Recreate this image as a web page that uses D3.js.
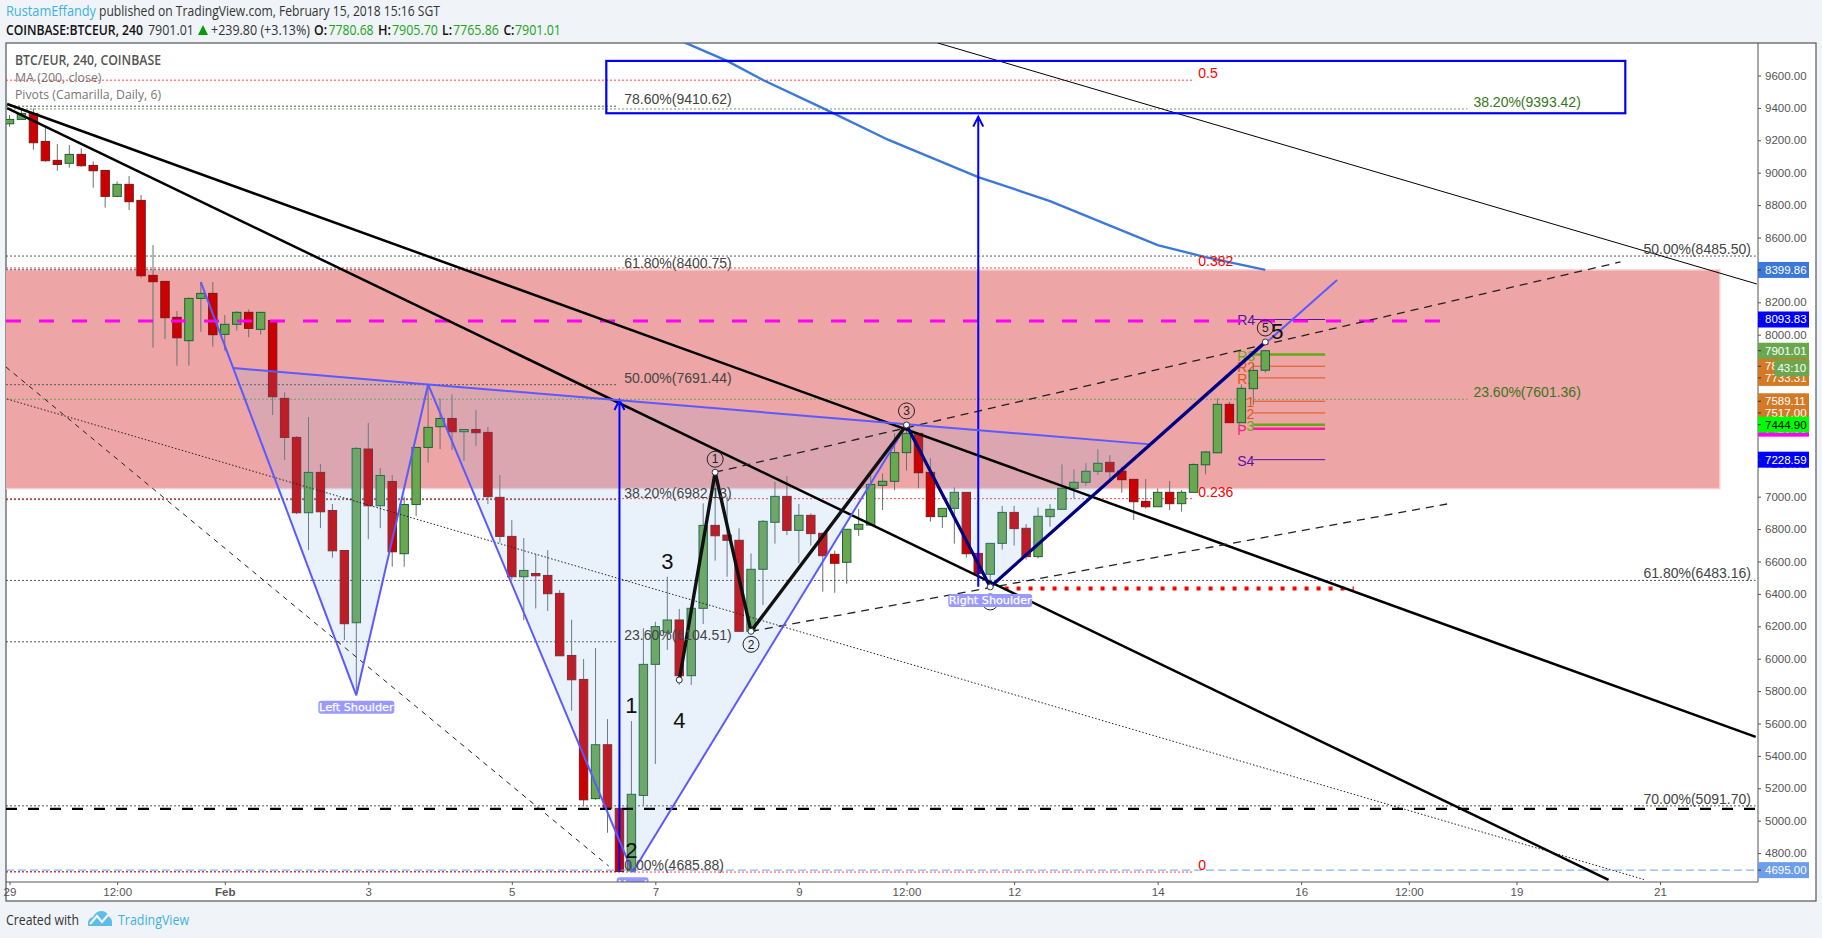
<!DOCTYPE html>
<html>
<head>
<meta charset="utf-8">
<title>BTC/EUR 240</title>
<script src="https://cdnjs.cloudflare.com/ajax/libs/d3/7.8.5/d3.min.js"></script>
<style>
  html, body { margin: 0; padding: 0; background: #f0f3f7; }
  svg { display: block; }
  text { font-family: "Liberation Sans", Arial, sans-serif; }
  text.ui { font-family: "Open Sans", "Liberation Sans", sans-serif; }
</style>
</head>
<body>
<svg id="chart" width="1822" height="938"></svg>
<script>
// Four-hour BTC/EUR candles
const opens = [9302,9329,9366,9193,9076,9058,9113,9045,9014,8854,8928,8829,8366,8329,8107,7963,8224,8255,8002,8064,8138,8033,8088,7607,7366,6901,7150,6915,6668,6222,7294,6944,7094,6648,6952,7304,7432,7483,7401,7415,7397,6996,6755,6506,6526,6514,6403,6020,5872,5136,5469,5076,4690,5156,5965,6163,6239,5895,6311,6823,6763,6731,6169,6552,6842,7002,6792,6885,6774,6644,6595,6799,6825,7070,7095,7272,7391,7150,6877,6928,7027,6650,6521,6712,6903,6805,6630,6877,6922,7052,7089,7157,7212,7158,7107,6971,6938,7027,6957,7027,7197,7271,7570,7457,7667,7780.68];
const highs = [9356,9387,9397,9284,9177,9171,9150,9070,9014,8946,8979,8862,8553,8329,8146,8230,8325,8325,8121,8146,8156,8138,8088,7644,7374,7492,7201,6955,6668,7306,7455,7177,7134,7000,7304,7693,7607,7632,7415,7535,7430,7134,6856,6745,6646,6670,6424,6241,5998,6066,5627,5076,5615,6188,6228,6506,6307,6311,6959,7150,7000,6805,6650,6856,7093,7128,6955,6897,6774,6667,6799,6924,7144,7144,7391,7443,7391,7237,6928,7058,7027,6650,6712,6943,6943,6831,6934,6955,7200,7169,7206,7292,7257,7185,7107,7109,7051,7097,7041,7206,7282,7607,7586,7693,7819,7905.70];
const lows = [9284,9329,9142,9068,9012,9031,9037,8907,8784,8852,8769,8352,7920,7973,7809,7809,8018,7926,7901,8025,7984,8000,7504,7226,6893,6670,6806,6623,6115,5774,6738,6806,6568,6568,6880,7210,7294,7288,7222,7313,6955,6716,6489,6238,6310,6294,6018,5679,5092,5129,4926,4686,4686,5097,5350,6054,5838,5838,6214,6605,6506,6169,6156,6331,6710,6763,6589,6698,6414,6407,6463,6757,6825,6918,7041,7161,7052,6846,6807,6710,6624,6520,6445,6673,6698,6613,6619,6815,6922,6990,7068,7134,7103,7024,6856,6926,6938,6917,6907,7027,7138,7271,7457,7457,7566,7765.86];
const closes = [9329,9366,9185,9074,9051,9113,9043,9012,8854,8928,8821,8364,8327,8105,7981,8224,8255,8000,8064,8138,8039,8138,7617,7366,6901,7150,6907,6666,6216,7298,6944,7131,6660,6952,7304,7428,7483,7401,7415,7395,7000,6755,6506,6545,6512,6401,6018,5870,5129,5469,5074,4686,5163,5965,6198,6239,5895,6311,6823,6759,6731,6169,6552,6848,7002,6792,6885,6772,6636,6589,6799,6829,7076,7095,7272,7391,7148,6877,6928,7027,6648,6527,6712,6903,6803,6630,6879,6922,7052,7089,7157,7206,7154,7105,6969,6938,7027,6957,7027,7199,7276,7570,7457,7669,7780,7901.01];

// Moving average, candle index and price
const maIndex = [55,60,63,68,73.5,81,87,96,100,105];
const maValue = [9850,9690,9572,9399,9202,8973,8825,8553,8479,8399.86];

// Price and time axis ticks
const priceTicks = [4800,5000,5200,5400,5600,5800,6000,6200,6400,6600,6800,7000,7200,7400,7600,7800,8000,8200,8400,8600,8800,9000,9200,9400,9600];
const timeTicks = [0,9,18,30,42,54,66,75,84,96,108,117,126,138];
const timeLabels = ["29","12:00","Feb","3","5","7","9","12:00","12","14","16","12:00","19","21"];

// Retracement levels: price and label
const leftFibPrices = [9410.62,8400.75,7691.44,6982.13,6104.51,4685.88];
const leftFibLabels = ["78.60%(9410.62)","61.80%(8400.75)","50.00%(7691.44)","38.20%(6982.13)","23.60%(6104.51)","0.00%(4685.88)"];
const rightFibPrices = [8485.50,6483.16,5091.70];
const rightFibLabels = ["50.00%(8485.50)","61.80%(6483.16)","70.00%(5091.70)"];
const greenFibPrices = [9393.42,7601.36];
const greenFibLabels = ["38.20%(9393.42)","23.60%(7601.36)"];
const redFibPrices = [9571,8412,6988,4683];
const redFibLabels = ["0.5","0.382","0.236","0"];

// Camarilla pivots
const pivotNames = ["R4","R3","R2","R1","S1","S2","S3","P","S4"];
const pivotPrices = [8093.83,7877.52,7805.41,7733.31,7589.11,7517.00,7444.90,7420,7228.59];
const pivotColors = ["#5a10a8","#62ab12","#e0561a","#e0561a","#e0561a","#e0561a","#62ab12","#ff1aa0","#5a10a8"];
const pivotWidths = [1,2.5,1,1,1,1,2.5,2.5,1];

// Resistance zone and target box, in price
const zoneTop = 8399.86, zoneBottom = 7050;
const boxTop = 9690, boxBottom = 9367;
const magentaLevel = 8084, blackDashLevel = 5073, lowLevel = 4695.00, redDotLevel = 6434;

// Head and shoulders vertices
const hsIndex = [16,18.7,29,35,52.1,75,82,95.4,111];
const hsPrice = [8325,7794,5774,7693,4682,7443,6443,7323,8338];

// Impulse wave vertices
const waveIndex = [56,59,62,75,82,105];
const wavePrice = [5869,7151,6169,7443,6443,7955];

// Trend lines: two end points each
const thickLines = [[[-0.2,9424],[146,5517]],[[-0.2,9399],[133.7,4634]]];
const thinLine = [[77.6,9801],[146.1,8313]];
const dottedLine = [[-0.2,7603],[136.8,4634]];
const steepDashLine = [[-0.3,7801],[50.1,4720]];
const channelDashLines = [[[59,7151],[134.7,8449]],[[62,6169],[120.2,6955]]];
const arrows = [[51,4686,7597],[81,6444,9346]];

// Price tags on the axis, in paint order
const tagPrices = [8399.86,8093.83,7877.52,7805.41,7733.31,7901.01,7589.11,7517.00,7420,7444.90,7228.59,4695.00];
const tagFills = ["#3c78d8","#0000ff","#00ff00","#d47a26","#d47a26","#6aa84f","#d47a26","#d47a26","#ff00ff","#00ff00","#0000ff","#6d9eeb"];
const tagInk = ["#fff","#fff","#000","#fff","#fff","#fff","#fff","#fff","#fff","#000","#fff","#fff"];

const paneLeft = 6, paneRight = 1758, paneTop = 43, paneBottom = 882, frameRight = 1816, frameBottom = 901;

const x = d3.scaleLinear().domain([0,105]).range([9.5,1265.3]);
const y = d3.scaleLinear().domain([7000,8000]).range([496.7,334.7]);
const path = d3.line().x(d => x(d[0])).y(d => y(d[1]));

const svg = d3.select("#chart");
svg.append("rect").attr("width",1822).attr("height",938).attr("fill","#f0f3f7");
svg.append("rect").attr("x",paneLeft).attr("y",paneTop).attr("width",frameRight-paneLeft).attr("height",frameBottom-paneTop)
   .attr("fill","#fff").attr("stroke","#555").attr("stroke-width",1.2);

svg.append("clipPath").attr("id","pane").append("rect")
   .attr("x",paneLeft).attr("y",paneTop).attr("width",paneRight-paneLeft).attr("height",paneBottom-paneTop);
const pane = svg.append("g").attr("clip-path","url(#pane)");

// Horizontal level lines, each with a label
function levels(prices, labels, endIndex, color, labelX, anchor) {
  const g = pane.append("g");
  g.selectAll("line").data(prices).join("line")
    .attr("x1",paneLeft).attr("x2",x(endIndex)).attr("y1",d=>y(d)).attr("y2",d=>y(d))
    .attr("stroke",color).attr("stroke-width",1).attr("stroke-dasharray","2,2");
  return {g, labels, prices, color, labelX, anchor};
}
function levelText(l) {
  pane.append("g").selectAll("text").data(l.prices).join("text")
    .attr("x",l.labelX).attr("y",d=>y(d)-2).attr("text-anchor",l.anchor)
    .attr("font-size",14).attr("fill",l.color==="#ff4444"?"#f00":(l.color==="#6aa84f"?"#38761d":"#444"))
    .text((d,i)=>l.labels[i]);
}

// Zone under everything else
pane.append("rect")
  .attr("x",x(-1)).attr("width",x(143)-x(-1))
  .attr("y",y(zoneTop)).attr("height",y(zoneBottom)-y(zoneTop))
  .attr("fill","#eea5a5").attr("stroke","#f5d0d0").attr("stroke-width",1.5);

const fibLeft = levels(leftFibPrices,leftFibLabels,50.8,"#555",x(51.4),"start");
const fibRight = levels(rightFibPrices,rightFibLabels,146,"#555",x(145.6),"end");
const fibGreen = levels(greenFibPrices,greenFibLabels,121.9,"#6aa84f",x(122.4),"start");
const fibRed = levels(redFibPrices,redFibLabels,99,"#ff4444",x(99.4),"start");

// Pivots sit behind the candles
const piv = pane.append("g");
piv.selectAll("line").data(pivotPrices).join("line")
  .attr("x1",x(104)).attr("x2",x(110)).attr("y1",d=>y(d)).attr("y2",d=>y(d))
  .attr("stroke",(d,i)=>pivotColors[i]).attr("stroke-width",(d,i)=>pivotWidths[i]);
piv.selectAll("text").data(pivotPrices).join("text")
  .attr("x",x(102.65)).attr("y",d=>y(d)+6).attr("font-size",14)
  .attr("fill",(d,i)=>pivotColors[i]).text((d,i)=>pivotNames[i]);

// Candles
const candleG = pane.append("g");
const idx = d3.range(opens.length);
candleG.selectAll("line").data(idx).join("line")
  .attr("x1",i=>x(i)).attr("x2",i=>x(i)).attr("y1",i=>y(highs[i])).attr("y2",i=>y(lows[i]))
  .attr("stroke","#667272").attr("stroke-width",1);
candleG.selectAll("rect").data(idx).join("rect")
  .attr("x",i=>x(i)-4.2).attr("width",8.4)
  .attr("y",i=>y(Math.max(opens[i],closes[i])))
  .attr("height",i=>Math.max(1.5,Math.abs(y(opens[i])-y(closes[i]))))
  .attr("fill",i=>closes[i]>=opens[i]?"#6aa84f":"#cc0000")
  .attr("stroke",i=>closes[i]>=opens[i]?"#1d5f3c":"#7d1616").attr("stroke-width",1);

// Translucent pattern fills over the candles
const hs = hsIndex.map((d,i)=>[d,hsPrice[i]]);
const hsFill = "rgba(125,172,230,0.17)";
[[1,2,3],[3,4,5],[5,6,7]].forEach(t=>{
  pane.append("path").attr("d",path(t.map(k=>hs[k]))+"Z").attr("fill",hsFill);
});

// Moving average
pane.append("path").attr("d",path(maIndex.map((d,i)=>[d,maValue[i]])))
  .attr("fill","none").attr("stroke","#3c78d8").attr("stroke-width",2.4);

// Long horizontal dashed levels
pane.append("line").attr("x1",paneLeft).attr("x2",x(119.7)).attr("y1",y(magentaLevel)).attr("y2",y(magentaLevel))
  .attr("stroke","#ff00ff").attr("stroke-width",3).attr("stroke-dasharray","15,18");
pane.append("line").attr("x1",paneLeft).attr("x2",paneRight).attr("y1",y(blackDashLevel)).attr("y2",y(blackDashLevel))
  .attr("stroke","#000").attr("stroke-width",2.4).attr("stroke-dasharray","11,11");
pane.append("line").attr("x1",paneLeft).attr("x2",paneRight).attr("y1",y(lowLevel)).attr("y2",y(lowLevel))
  .attr("stroke","#6d9eeb").attr("stroke-width",1).attr("stroke-dasharray","8,4");
pane.append("line").attr("x1",x(83.2)).attr("x2",x(112.4)).attr("y1",y(redDotLevel)).attr("y2",y(redDotLevel))
  .attr("stroke","#ff0000").attr("stroke-width",4).attr("stroke-dasharray","4,8");

// Trend lines
thickLines.forEach(l=>pane.append("path").attr("d",path(l)).attr("fill","none").attr("stroke","#000").attr("stroke-width",2.5));
pane.append("path").attr("d",path(thinLine)).attr("fill","none").attr("stroke","#000").attr("stroke-width",1);
pane.append("path").attr("d",path(dottedLine)).attr("fill","none").attr("stroke","#222").attr("stroke-width",1).attr("stroke-dasharray","1.5,2");
pane.append("path").attr("d",path(steepDashLine)).attr("fill","none").attr("stroke","#222").attr("stroke-width",1).attr("stroke-dasharray","5,5");
channelDashLines.forEach(l=>pane.append("path").attr("d",path(l)).attr("fill","none").attr("stroke","#222").attr("stroke-width",1.3).attr("stroke-dasharray","8,6"));

// Target box and arrows
pane.append("rect").attr("x",x(49.9)).attr("y",y(boxTop)).attr("width",x(135.1)-x(49.9)).attr("height",y(boxBottom)-y(boxTop))
  .attr("fill","none").attr("stroke","#0000ff").attr("stroke-width",2.2);
arrows.forEach(a=>{
  const ax = x(a[0]), y0 = y(a[1]), y1 = y(a[2]);
  pane.append("path").attr("d",`M${ax},${y0}L${ax},${y1}M${ax-5},${y1+10}L${ax},${y1}L${ax+5},${y1+10}`)
    .attr("fill","none").attr("stroke","#0000ff").attr("stroke-width",2);
});

// Head and shoulders outline
const hsStroke = "#5a5aff";
[[0,2],[1,3],[3,7],[2,3],[3,4],[4,5],[5,6],[6,8]].forEach(s=>{
  pane.append("path").attr("d",path([hs[s[0]],hs[s[1]]])).attr("fill","none").attr("stroke",hsStroke).attr("stroke-width",2);
});

// Impulse wave
const wave = waveIndex.map((d,i)=>[d,wavePrice[i]]);
pane.append("path").attr("d",path(wave.slice(0,4))).attr("fill","none").attr("stroke","#111").attr("stroke-width",3.4).attr("stroke-linejoin","round");
pane.append("path").attr("d",path(wave.slice(3))).attr("fill","none").attr("stroke","#000080").attr("stroke-width",3.2).attr("stroke-linejoin","round");

// Retracement labels
levelText(fibLeft); levelText(fibRight); levelText(fibGreen); levelText(fibRed);

// Wave vertex dots and numbered rings
pane.selectAll(".dot").data(wave).join("circle").attr("class","dot")
  .attr("cx",d=>x(d[0])).attr("cy",d=>y(d[1])).attr("r",3)
  .attr("fill","#fff").attr("stroke","#334").attr("stroke-width",1);
const rings = [[1,-13],[2,13],[3,-14],[4,15],[5,-14]];
rings.forEach(r=>{
  const d = wave[r[0]];
  pane.append("circle").attr("cx",x(d[0])).attr("cy",y(d[1])+r[1]).attr("r",8).attr("fill","none").attr("stroke","#222").attr("stroke-width",1);
  pane.append("text").attr("x",x(d[0])).attr("y",y(d[1])+r[1]+4.2).attr("text-anchor","middle").attr("font-size",12).attr("fill","#222").text(r[0]);
});

// Pattern name tags sit over the rings
function tag(text, cx, cy, w) {
  const g = pane.append("g");
  g.append("rect").attr("x",cx-w/2).attr("y",cy-6.5).attr("width",w).attr("height",13).attr("rx",3).attr("fill","#9999ff");
  g.append("text").attr("x",cx).attr("y",cy+4).attr("text-anchor","middle").attr("fill","#fff")
    .attr("stroke","#fff").attr("stroke-width",0.25)
    .attr("font-size",11.2).attr("style",'font-family:"DejaVu Sans"').text(text);
}
tag("Left Shoulder", x(29), y(5774)+12, 76);
tag("Right Shoulder", x(82), y(6443)+13.5, 84);
tag("Head", x(52.1), y(4682)+11.5, 32);

// Large wave counts, placed from candle index and price
const countLabels = ["1","2","3","4","5"];
const countIndex = [52,52,55,56,106];
const countPrice = [5714,4819,6603,5621,8023];
pane.selectAll(".count").data(countLabels).join("text").attr("class","count")
  .attr("x",(d,i)=>x(countIndex[i])).attr("y",(d,i)=>y(countPrice[i])+8)
  .attr("text-anchor","middle").attr("font-size",22).attr("fill","#111").text(d=>d);

// Axes
const xAxis = d3.axisBottom(x).tickValues(timeTicks).tickFormat((d,i)=>timeLabels[i]).tickSizeOuter(0).tickSize(3).tickPadding(3);
const xg = svg.append("g").attr("transform",`translate(0,${paneBottom})`).call(xAxis);
xg.select(".domain").remove();
xg.selectAll("text").attr("font-size",11.5).attr("fill","#555").attr("font-family",'"Liberation Sans"')
  .attr("font-weight",(d,i)=>timeLabels[i]==="Feb"?"bold":"normal");
xg.selectAll("line").attr("stroke","#555");

const yAxis = d3.axisRight(y).tickValues(priceTicks).tickFormat(d3.format(".2f")).tickSize(3).tickPadding(4);
const yg = svg.append("g").attr("transform",`translate(${paneRight},0)`).call(yAxis);
yg.select(".domain").remove();
yg.selectAll("text").attr("font-size",11.5).attr("fill","#555").attr("font-family",'"Liberation Sans"');
yg.selectAll("line").attr("stroke","#555");

svg.append("line").attr("x1",paneLeft).attr("x2",paneRight).attr("y1",paneBottom).attr("y2",paneBottom).attr("stroke","#555");
svg.append("line").attr("x1",paneRight).attr("x2",paneRight).attr("y1",paneTop).attr("y2",paneBottom).attr("stroke","#555");

// Price tags
const tags = svg.append("g");
tagPrices.forEach((p,i)=>{
  const cy = y(p);
  tags.append("rect").attr("x",paneRight).attr("y",cy-8).attr("width",51).attr("height",16).attr("fill",tagFills[i]);
  tags.append("line").attr("x1",paneRight).attr("x2",paneRight+3).attr("y1",cy).attr("y2",cy).attr("stroke","#333");
  tags.append("text").attr("x",paneRight+7).attr("y",cy+4).attr("font-size",11.5).attr("fill",tagInk[i]).text(p.toFixed(2));
});
// Countdown to bar close
tags.append("rect").attr("x",x(105)+509).attr("y",y(7901.01)+9.5).attr("width",35).attr("height",16).attr("fill","#6aa84f");
tags.append("text").attr("x",x(105)+526.5).attr("y",y(7901.01)+21.5).attr("text-anchor","middle").attr("font-size",11.5).attr("fill","#fff").text("43:10");

// Header and legend text
function label(t, tx, ty, width, size, color, weight) {
  return svg.append("text").attr("class","ui").attr("x",tx).attr("y",ty).attr("font-size",size).attr("fill",color)
    .attr("font-weight",weight||"normal").attr("textLength",width).attr("lengthAdjust","spacingAndGlyphs").text(t);
}
label("RustamEffandy",6,16,90,14.5,"#3bb3e4");
label("published on TradingView.com, February 15, 2018 15:16 SGT",99,16,341,14.5,"#333");
label("COINBASE:BTCEUR, 240",6,35,137,14.5,"#111","600");
label("7901.01",148,35,46,14.5,"#333");
svg.append("path").attr("d","M198,35L208,35L203,25Z").attr("fill","#0a9a0a");
label("+239.80 (+3.13%)",211,35,99,14.5,"#333");
label("O:",314,35,13,14.5,"#111","600");
label("7780.68",328.6,35,45,14.5,"#1aa51a");
label("H:",378,35,13,14.5,"#111","600");
label("7905.70",392,35,46,14.5,"#1aa51a");
label("L:",442,35,10,14.5,"#111","600");
label("7765.86",453,35,46,14.5,"#1aa51a");
label("C:",503.4,35,11,14.5,"#111","600");
label("7901.01",515,35,46,14.5,"#1aa51a");

label("BTC/EUR, 240, COINBASE",15,65,146,13.5,"#555","600");
label("MA (200, close)",15,82,86.5,13.5,"#777");
label("Pivots (Camarilla, Daily, 6)",15,99,146,13.5,"#777");

label("Created with",6,925,73,14.5,"#333");
label("TradingView",118,925,71,14.5,"#3bb3e4");

// Footer cloud mark
const logo = svg.append("g").attr("transform","translate(88,911)");
logo.append("path").attr("d","M0,15 L0,11 Q1,7 5,6 Q8,0 13,0 Q19,0 20,5 Q24,7 24,11 L24,15 Z").attr("fill","#5bbde8");
logo.append("path").attr("d","M2,13 L9,5 L14,11 L20,4").attr("fill","none").attr("stroke","#f0f3f7").attr("stroke-width",2.2);
</script>
</body>
</html>
